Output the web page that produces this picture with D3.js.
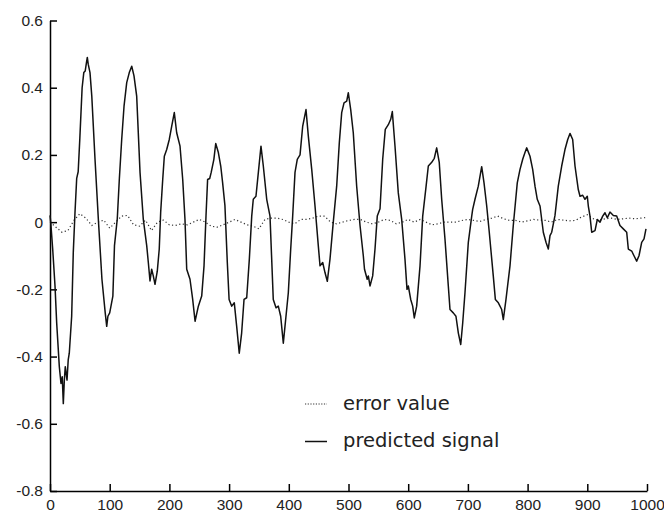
<!DOCTYPE html>
<html>
    <head>
        <meta charset="utf-8">
        <script src="https://d3js.org/d3.v7.min.js"></script>
        <title>predicted signal</title>

        <!-- style -->
        <style>
            body {
                margin: 0;
                background: white;
            }

            .axis text {
                fill: #222;
                font-family: 'Liberation Sans', Arial, sans-serif;
                font-size: 15.5px;
            }

            .axis path, .axis line {
                stroke: black;
                stroke-width: 1.5;
            }

            .legend text {
                font-family: 'DejaVu Sans', Verdana, sans-serif;
                font-size: 19.5px;
                fill: #222;
            }
        </style>
    </head>
    <body>
        <svg></svg>
    </body>
    <script>
        // data (sample index, value)
        var predictedSignal = [
            [0, 0.02], [1.2, 0.0], [4.5, -0.08], [8.4, -0.19], [11.2, -0.30], [15.6, -0.43], [18.4, -0.48],
            [20.5, -0.46], [22.3, -0.54], [24, -0.47], [25.6, -0.43], [28.5, -0.47], [30.5, -0.41], [32.3, -0.39],
            [36.3, -0.28], [39, -0.09], [41.9, 0.03], [44.7, 0.13], [47.2, 0.15], [50, 0.25], [53.8, 0.40],
            [56.6, 0.445], [59, 0.45], [61, 0.474], [62.5, 0.49], [64, 0.47], [67, 0.445], [70, 0.375],
            [75.4, 0.187], [81, 0.008], [87, -0.17], [92.5, -0.27], [95, -0.31], [97, -0.28], [100, -0.27],
            [105.3, -0.22], [108, -0.07], [112.7, 0.01], [116.1, 0.127], [120.1, 0.246], [124, 0.345],
            [128.5, 0.415], [132.8, 0.445], [136.9, 0.464], [140.7, 0.435], [145.2, 0.375], [150.8, 0.148],
            [156.3, 0.008], [162, -0.07], [164.7, -0.12], [167.5, -0.175], [170.3, -0.14], [173, -0.16],
            [175.9, -0.185], [179.7, -0.146], [183, -0.08], [185.4, 0.03], [188.8, 0.127], [191.5, 0.196],
            [195.5, 0.216], [199.8, 0.246], [203.9, 0.286], [208.2, 0.326], [212.2, 0.266], [217.8, 0.226],
            [222.3, 0.127], [226.1, 0.008], [229, -0.14], [234.5, -0.17], [239, -0.23], [243, -0.295],
            [248.5, -0.25], [254.1, -0.22], [258, -0.13], [261.3, 0.018], [264, 0.127], [267.5, 0.13],
            [270, 0.148], [274.5, 0.187], [277.6, 0.234], [282, 0.207], [286, 0.167], [289, 0.12], [293, 0.05],
            [297, -0.12], [300, -0.23], [304.4, -0.25], [308.7, -0.24], [312.7, -0.31], [317, -0.39],
            [321, -0.33], [325, -0.23], [329.5, -0.225], [333.9, -0.11], [337.9, 0.018], [340.5, 0.068],
            [345, 0.077], [349, 0.148], [353.4, 0.226], [357.3, 0.167], [363, 0.068], [368.5, 0.018],
            [374, -0.23], [378.6, -0.255], [382.4, -0.25], [386.4, -0.28], [390.8, -0.36], [393.6, -0.31],
            [399.2, -0.21], [403.2, -0.08], [406.5, 0.018], [410.4, 0.148], [414.2, 0.187], [418.8, 0.2],
            [423.3, 0.286], [428.8, 0.335], [432.7, 0.256], [438.4, 0.157], [443.9, 0.048], [449.4, -0.07],
            [452.3, -0.13], [456.8, -0.12], [460.6, -0.15], [464.5, -0.176], [469, -0.11], [474.5, 0.0],
            [480.2, 0.107], [484.6, 0.236], [488.6, 0.326], [492.5, 0.355], [497, 0.36], [499.7, 0.385],
            [503.7, 0.335], [508, 0.266], [513.7, 0.107], [519.3, -0.01], [524.8, -0.1], [526.8, -0.14],
            [531.3, -0.17], [533.2, -0.16], [536, -0.19], [540.5, -0.16], [544.4, -0.08], [548.2, 0.018],
            [552.8, 0.04], [557.3, 0.187], [561.6, 0.276], [566.7, 0.29], [570.7, 0.306], [573.4, 0.329],
            [577.9, 0.226], [583.4, 0.087], [589.1, 0.008], [594.6, -0.11], [598, -0.2], [600.2, -0.19],
            [604.2, -0.23], [607.5, -0.25], [610.2, -0.285], [614.2, -0.25], [619.8, -0.13], [624.3, 0.018],
            [630, 0.107], [633.7, 0.167], [639.4, 0.178], [643.7, 0.19], [647.7, 0.221], [652, 0.178],
            [656.1, 0.068], [661.6, -0.05], [667.2, -0.19], [670, -0.26], [675.5, -0.27], [680, -0.28],
            [684, -0.33], [688, -0.364], [691.3, -0.3], [695.1, -0.21], [700.7, -0.06], [706.4, 0.018],
            [708, 0.038], [711.9, 0.068], [717.4, 0.107], [723.1, 0.165], [727, 0.117], [731.5, 0.048],
            [735.8, -0.03], [742.5, -0.16], [746, -0.23], [751, -0.24], [756.6, -0.26], [759.3, -0.29],
            [763.8, -0.23], [770.5, -0.13], [776, -0.01], [782.7, 0.117], [787.3, 0.157], [791.8, 0.187],
            [795.6, 0.207], [798.5, 0.221], [804, 0.196], [808.5, 0.157], [812.4, 0.107], [816.2, 0.068],
            [820.8, 0.048], [826.3, -0.03], [830.8, -0.06], [834.7, -0.08], [837.5, -0.04], [840.4, -0.03],
            [845.9, 0.02], [851.4, 0.107], [857.1, 0.167], [862.6, 0.216], [867.2, 0.246], [871, 0.264],
            [875.5, 0.246], [879.4, 0.167], [884.9, 0.097], [887.8, 0.077], [892.3, 0.08], [896.1, 0.068],
            [900, 0.077], [901.7, 0.048], [904.5, 0.018], [907.4, -0.03], [912.9, -0.025], [916.8, 0.008],
            [921.3, 0.0], [925.8, 0.018], [929.6, 0.028], [933.5, 0.013], [938, 0.03], [943.6, 0.02],
            [949.2, 0.018], [954.7, -0.01], [960.3, -0.02], [966, -0.03], [968.7, -0.08], [974.4, -0.086],
            [978.2, -0.1], [982.7, -0.116], [986.6, -0.1], [991.1, -0.06], [995, -0.05], [998.3, -0.02]
        ];

        var errorX = d3.range(0, 1001, 10);
        var errorValue = [
            0.0, -0.015, -0.03, -0.025, 0.005, 0.025, 0.012, -0.01, 0.0, 0.006,
            -0.018, 0.0, 0.018, 0.02, -0.008, -0.012, 0.006, -0.025, 0.0, 0.006,
            -0.008, -0.01, -0.005, -0.008, 0.0, 0.008, 0.0, -0.012, -0.015, -0.008,
            0.0, 0.008, 0.0, -0.008, -0.012, -0.02, 0.008, 0.012, 0.012, 0.008,
            0.0, -0.005, 0.008, 0.008, 0.012, 0.018, 0.018, 0.0, -0.005, 0.0,
            0.005, 0.008, 0.008, 0.0, -0.005, 0.0, 0.008, 0.005, -0.005, 0.0,
            0.008, 0.0, 0.008, 0.0, -0.008, -0.005, 0.0, 0.0, 0.0, 0.005,
            0.008, 0.005, 0.002, 0.008, 0.012, 0.018, 0.01, 0.005, 0.005, 0.0,
            0.004, 0.008, 0.006, 0.005, 0.0, 0.008, 0.006, 0.004, 0.005, 0.015,
            0.022, 0.01, 0.006, 0.01, 0.012, 0.008, 0.01, 0.012, 0.01, 0.012,
            0.014
        ];

        var xTicks = [0, 100, 200, 300, 400, 500, 600, 700, 800, 900, 1000];
        var yTicks = [-0.8, -0.6, -0.4, -0.2, 0, 0.2, 0.4, 0.6];
        var yTickLabels = ['-0.8', '-0.6', '-0.4', '-0.2', '0', '0.2', '0.4', '0.6'];
        var legendLabels = ['error value', 'predicted signal'];

        // size
        var width = 664, height = 512;
        var margin = {top: 20.5, right: 17, bottom: 21, left: 50};

        var svg = d3.select('svg')
            .attr('width', width)
            .attr('height', height);

        // x
        var xScale = d3.scaleLinear().domain([0, 1000]).range([margin.left, width - margin.right]);
        var xAxis = d3.axisBottom(xScale)
            .tickValues(xTicks)
            .tickFormat(d3.format('d'))
            .tickSizeInner(-7)
            .tickSizeOuter(0)
            .tickPadding(8);

        // y
        var yScale = d3.scaleLinear().domain([-0.8, 0.6]).range([height - margin.bottom, margin.top]);
        var yAxis = d3.axisLeft(yScale)
            .tickValues(yTicks)
            .tickFormat(function (d, i) { return yTickLabels[i]; })
            .tickSizeInner(-7)
            .tickSizeOuter(0)
            .tickPadding(7);

        svg.append('g')
            .attr('class', 'x axis')
            .attr('transform', 'translate(0,' + (height - margin.bottom) + ')')
            .call(xAxis);

        svg.append('g')
            .attr('class', 'y axis')
            .attr('transform', 'translate(' + margin.left + ',0)')
            .call(yAxis);

        // lines
        var line = d3.line()
            .x(function (d) { return xScale(d[0]); })
            .y(function (d) { return yScale(d[1]); });

        var errorData = errorX.map(function (x, i) { return [x, errorValue[i]]; });

        svg.append('path')
            .datum(errorData)
            .attr('d', line)
            .attr('fill', 'none')
            .attr('stroke', '#333')
            .attr('stroke-width', 1.2)
            .attr('stroke-dasharray', '1.2,2.5');

        svg.append('path')
            .datum(predictedSignal)
            .attr('d', line)
            .attr('fill', 'none')
            .attr('stroke', '#111')
            .attr('stroke-width', 1.5)
            .attr('stroke-linejoin', 'round');

        // legend
        var legend = svg.selectAll('.legend')
            .data(legendLabels)
        .enter().append('g')
            .attr('class', 'legend')
            .attr('transform', function (d, i) { return 'translate(305,' + (404 + i * 37.5) + ')'; });

        legend.append('line')
            .attr('x1', 0)
            .attr('x2', 22)
            .attr('y1', 0)
            .attr('y2', 0)
            .attr('stroke', function (d, i) { return i === 0 ? '#333' : '#111'; })
            .attr('stroke-width', function (d, i) { return i === 0 ? 1.2 : 1.5; })
            .attr('stroke-dasharray', function (d, i) { return i === 0 ? '1.2,1.5' : null; });

        legend.append('text')
            .attr('x', 38)
            .attr('y', 5.5)
            .text(function (d) { return d; });
    </script>
</html>
